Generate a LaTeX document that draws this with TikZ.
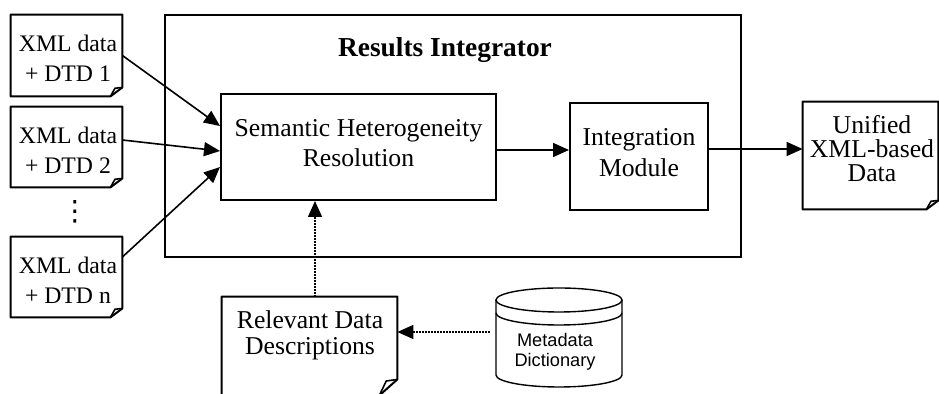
\documentclass[tikz,border=0pt]{standalone}
\usepackage{fontspec}
\setmainfont{Liberation Serif}
\newfontfamily\dictfont{Liberation Sans}
\newfontfamily\symfont{DejaVu Sans}
\usetikzlibrary{arrows.meta,calc}

% document symbol: rectangle with a turned-down lower right corner
\newcommand\foldbox[3]{%
  \pgfmathsetmacro\fx{#2}\pgfmathsetmacro\fy{#3}%
  \pgfmathsetmacro\gx{0.62*#2}\pgfmathsetmacro\gy{0.9*#3}%
  \draw[outline] (#1.north west) -- (#1.north east) -- ([yshift=\fy pt]#1.south east)
     -- ([xshift=-\fx pt]#1.south east) -- (#1.south west) -- cycle;
  \draw[flap] ([xshift=-\fx pt]#1.south east) -- ([shift={(-\gx pt,\gy pt)}]#1.south east)
     -- ([yshift=\fy pt]#1.south east);
}

\begin{document}
\begin{tikzpicture}[x=0.5pt,y=-0.5pt,
  outline/.style={line width=1pt, line join=round},
  flap/.style={line width=0.8pt, line join=round},
  box/.style={draw, line width=1pt, rectangle, inner sep=0pt},
  plain/.style={rectangle, inner sep=0pt},
  lbl/.style={align=center, inner sep=0pt, font=\fontsize{12.85}{15}\selectfont},
  doctext/.style={align=center, inner sep=0pt, font=\fontsize{11.85}{15}\selectfont},
  flow/.style={-{Triangle[length=8pt,width=7pt]}, line width=0.8pt},
  ref/.style={-{Triangle[length=8pt,width=7pt]}, line width=0.7pt, dash pattern=on 0.8pt off 0.7pt},
]
\useasboundingbox[fill=white] (0,0) rectangle (939,394);

% source documents
\node[plain, minimum width=55.5pt, minimum height=40.5pt] (doc1) at (66.5,55.5) {};
\node[plain, minimum width=55.5pt, minimum height=40pt] (doc2) at (66.5,147) {};
\node[plain, minimum width=55.5pt, minimum height=40pt] (docn) at (66.5,277) {};
\foldbox{doc1}{6}{4.5}
\foldbox{doc2}{6}{4.5}
\foldbox{docn}{6}{4.5}
\node[doctext] (doc1t) at (68,58) {XML data\\+ DTD 1};
\node[doctext] (doc2t) at (68,150) {XML data\\+ DTD 2};
\node[doctext] (docnt) at (68,280) {XML data\\+ DTD n};
\node[inner sep=0pt, font=\symfont\fontsize{14}{14}\selectfont] (dots) at (75,212) {⋮};

% integrator frame and its modules
\node[box, minimum width=288pt, minimum height=121pt] (outer) at (453,136) {};
\node[inner sep=0pt, font=\bfseries\fontsize{13.7}{16}\selectfont] (title) at (445,50) {Results Integrator};
\node[box, minimum width=137.5pt, minimum height=53pt] (sem) at (358.5,147) {};
\node[lbl] (semt) at (358.5,143) {Semantic Heterogeneity\\Resolution};
\node[box, minimum width=69pt, minimum height=53.5pt] (int) at (639,156.5) {};
\node[lbl, font=\fontsize{12.85}{15.5}\selectfont] (intt) at (639,152.5) {Integration\\Module};

% output document
\node[plain, minimum width=67.5pt, minimum height=53.5pt] (uni) at (870.5,155.5) {};
\foldbox{uni}{6}{4.5}
\node[lbl, font=\fontsize{12.85}{12}\selectfont] (unit) at (872,149) {Unified\\XML-based\\Data};

% relevant data descriptions
\node[plain, minimum width=87.5pt, minimum height=49pt] (rel) at (309.5,346) {};
\foldbox{rel}{9}{8}
\node[lbl, font=\fontsize{12.85}{13}\selectfont] (relt) at (310,335) {Relevant Data\\Descriptions};

% metadata dictionary (database cylinder)
\node[plain, minimum width=63pt, minimum height=49.5pt] (meta) at (559,337.5) {};
\begin{scope}[line width=0.7pt]
  \draw (559,300) ellipse [x radius=31.5pt, y radius=6pt];
  \draw (496,313) arc [start angle=180, end angle=360, x radius=31.5pt, y radius=6pt];
  \draw (496,300) -- (496,375) arc [start angle=180, end angle=360, x radius=31.5pt, y radius=6pt] -- (622,300);
\end{scope}
\node[align=center, inner sep=0pt, font=\dictfont\fontsize{9.1}{10}\selectfont] (metat) at (555,352) {Metadata\\Dictionary};

% connectors
\draw[flow] (doc1.east) -- ([yshift=10.5pt]sem.west);
\draw[flow] ([yshift=3.5pt]doc2.east) -- ([yshift=-2pt]sem.west);
\draw[flow] ([yshift=10pt]docn.east) -- ([yshift=-10pt]sem.west);
\coordinate (s2i) at ([yshift=-1.5pt]sem.east);
\draw[flow] (s2i) -- (s2i -| int.west);
\coordinate (i2u) at ([yshift=3.75pt]int.east);
\draw[flow] (i2u) -- (i2u -| uni.west);
\coordinate (r2s) at ([xshift=2.75pt]rel.north);
\draw[ref] (r2s) -- (r2s |- sem.south);
\coordinate (m2r) at ([shift={(-3pt,2.75pt)}]meta.west);
\draw[ref] (m2r) -- (m2r -| rel.east);
\end{tikzpicture}
\end{document}
